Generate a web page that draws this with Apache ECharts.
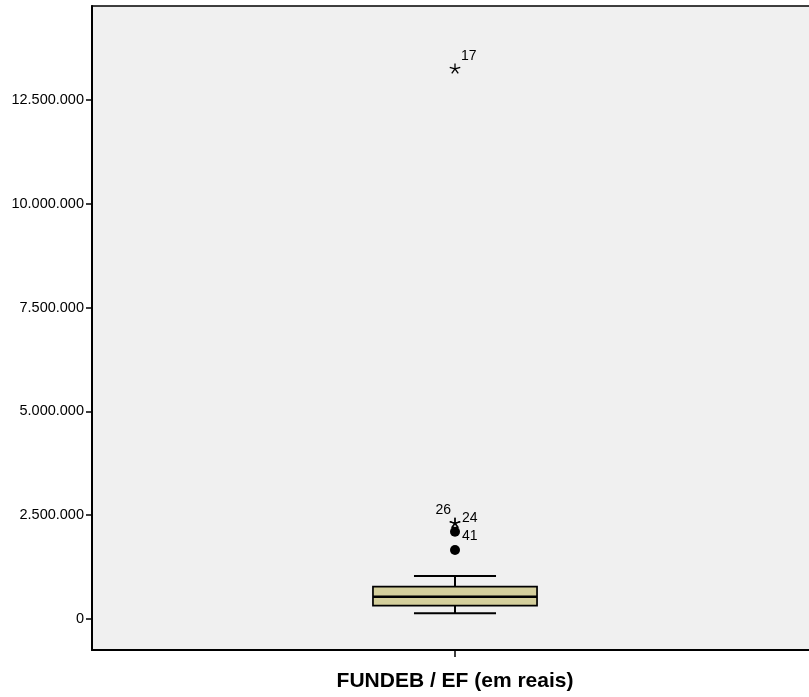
<!DOCTYPE html>
<html>
<head>
<meta charset="utf-8">
<script src="https://cdn.jsdelivr.net/npm/echarts@6/dist/echarts.min.js"></script>
<style>
html,body{margin:0;padding:0;background:#fff;}
#chart{width:809px;height:697px;}
</style>
</head>
<body>
<div id="chart"></div>
<script>
// ---- data ----
var categories = ['FUNDEB / EF (em reais)'];
// [lower whisker, Q1, median, Q3, upper whisker]
var boxStats = [137000, 320000, 537000, 778000, 1036000];
var outlierValues = [1662000, 2103000];
var outlierLabels = ['', '41'];
var extremeValues = [2305000, 2305000, 13247000];
var extremeLabels = ['26', '24', '17'];
var yTickValues = [0, 2500000, 5000000, 7500000, 10000000, 12500000];

function fmt(v) {
  return String(v).replace(/\B(?=(\d{3})+(?!\d))/g, '.');
}

var chart = echarts.init(document.getElementById('chart'), null, {renderer: 'canvas'});

var boxFill = '#D4CF9C';
var textFont = '14px "Liberation Sans", Arial, sans-serif';

function boxRender(params, api) {
  var cx = api.coord([0, boxStats[2]])[0];
  var yLW = api.coord([0, boxStats[0]])[1];
  var yQ1 = api.coord([0, boxStats[1]])[1];
  var yMed = api.coord([0, boxStats[2]])[1];
  var yQ3 = api.coord([0, boxStats[3]])[1];
  var yUW = api.coord([0, boxStats[4]])[1];
  var band = api.size([1, 0])[0];
  var hw = band * 0.113;
  var cw = band * 0.0565;
  var ls = {stroke: '#000', lineWidth: 2};
  return {
    type: 'group',
    children: [
      {type: 'line', shape: {x1: cx, y1: yUW, x2: cx, y2: yQ3}, style: ls},
      {type: 'line', shape: {x1: cx, y1: yLW, x2: cx, y2: yQ1}, style: ls},
      {type: 'line', shape: {x1: cx - cw, y1: yUW, x2: cx + cw, y2: yUW}, style: ls},
      {type: 'line', shape: {x1: cx - cw, y1: yLW, x2: cx + cw, y2: yLW}, style: ls},
      {type: 'rect', shape: {x: cx - hw, y: yQ3, width: 2 * hw, height: yQ1 - yQ3},
        style: {fill: boxFill, stroke: '#000', lineWidth: 1.7}},
      {type: 'line', shape: {x1: cx - hw, y1: yMed, x2: cx + hw, y2: yMed}, style: {stroke: '#000', lineWidth: 2.5}}
    ]
  };
}

var labelPlacement = {
  '26': {dx: -4, dy: -13, align: 'right'},
  '24': {dx: 7, dy: -5, align: 'left'},
  '17': {dx: 6, dy: -13, align: 'left'},
  '41': {dx: 7, dy: 4, align: 'left'}
};

function outlierRender(params, api) {
  var i = params.dataIndex;
  var p = api.coord([0, outlierValues[i]]);
  var children = [
    {type: 'circle', shape: {cx: p[0], cy: p[1], r: 5}, style: {fill: '#000'}}
  ];
  var lab = outlierLabels[i];
  if (lab) {
    var pl = labelPlacement[lab];
    children.push({type: 'text', x: p[0] + pl.dx, y: p[1] + pl.dy,
      style: {text: lab, font: textFont, fill: '#000', align: pl.align, verticalAlign: 'middle'}});
  }
  return {type: 'group', children: children};
}

function extremeRender(params, api) {
  var i = params.dataIndex;
  var p = api.coord([0, extremeValues[i]]);
  var children = [];
  var L = 5.5;
  var angles = [-90, -18, -162, 54, 126];
  for (var k = 0; k < angles.length; k++) {
    var a = angles[k] * Math.PI / 180;
    children.push({type: 'line', shape: {x1: p[0], y1: p[1], x2: p[0] + L * Math.cos(a), y2: p[1] + L * Math.sin(a)},
      style: {stroke: '#000', lineWidth: 1.3}});
  }
  var lab = extremeLabels[i];
  if (lab) {
    var pl = labelPlacement[lab];
    children.push({type: 'text', x: p[0] + pl.dx, y: p[1] + pl.dy,
      style: {text: lab, font: textFont, fill: '#000', align: pl.align, verticalAlign: 'middle'}});
  }
  return {type: 'group', children: children};
}

var option = {
  backgroundColor: '#ffffff',
  animation: false,
  grid: {
    left: 92, top: 6, width: 726, height: 644,
    outerBoundsMode: 'none', containLabel: false,
    show: true, backgroundColor: '#F0F0F0', borderColor: '#000', borderWidth: 1.5
  },
  xAxis: {
    type: 'category',
    data: categories,
    boundaryGap: true,
    axisLine: {show: true, onZero: false, lineStyle: {color: '#000', width: 2}},
    axisTick: {show: true, alignWithLabel: true, length: 7, lineStyle: {color: '#000', width: 1.5}},
    axisLabel: {
      color: '#000', fontSize: 21, fontWeight: 'bold',
      fontFamily: '"Liberation Sans", Arial, sans-serif', margin: 21
    },
    splitLine: {show: false}
  },
  yAxis: {
    type: 'value',
    min: -746600,
    max: 14764000,
    axisLine: {show: true, onZero: false, lineStyle: {color: '#000', width: 2}},
    axisTick: {show: true, length: 6, customValues: yTickValues, lineStyle: {color: '#000', width: 1.5}},
    axisLabel: {
      customValues: yTickValues,
      color: '#000', fontSize: 14.5,
      fontFamily: '"Liberation Sans", Arial, sans-serif', margin: 8,
      formatter: function (v) { return fmt(v); }
    },
    splitLine: {show: false}
  },
  series: [
    {type: 'custom', renderItem: boxRender, data: [0], clip: false, z: 2},
    {type: 'custom', renderItem: outlierRender, data: outlierValues.map(function (v, i) { return [0, v]; }), z: 3},
    {type: 'custom', renderItem: extremeRender, data: extremeValues.map(function (v, i) { return [0, v]; }), z: 3}
  ]
};

chart.setOption(option);
</script>
</body>
</html>
